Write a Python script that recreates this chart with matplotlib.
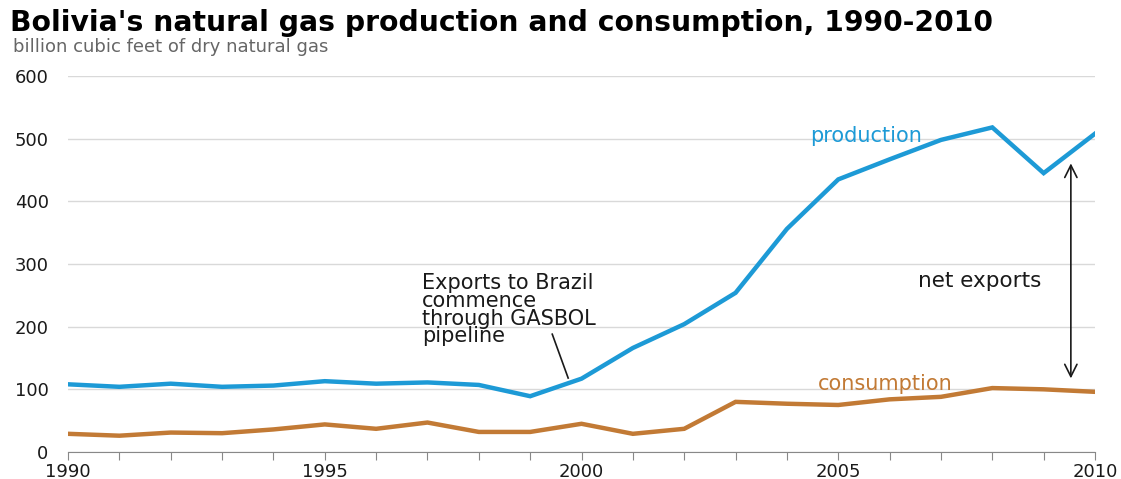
import numpy as np
import matplotlib
matplotlib.use('Agg')
import matplotlib.pyplot as plt

# данные
years = np.arange(1990, 2011)
production = [108, 104, 109, 104, 106, 113, 109, 111, 107, 89,
              117, 166, 204, 254, 356, 435, 467, 498, 518, 445, 508]
consumption = [29, 26, 31, 30, 36, 44, 37, 47, 32, 32,
               45, 29, 37, 80, 77, 75, 84, 88, 102, 100, 96]
yticks = [0, 100, 200, 300, 400, 500, 600]
xlabels = [1990, 1995, 2000, 2005, 2010]

blue = '#1d9ad6'
brown = '#c27a35'

plt.rcParams['font.family'] = ['DejaVu Sans']
fig = plt.figure(figsize=(11.21, 4.79), dpi=100)
ax = fig.add_axes([0.0607, 0.0564, 0.9161, 0.7849])

ax.plot(years, production, color=blue, lw=3.2, solid_joinstyle='miter', zorder=3)
ax.plot(years, consumption, color=brown, lw=3.2, solid_joinstyle='miter', zorder=3)

ax.set_xlim(1990, 2010)
ax.set_ylim(0, 600)
ax.set_yticks(yticks)
ax.set_yticklabels([str(v) for v in yticks], fontsize=13, color='#1a1a1a')
ax.set_xticks(years)
ax.set_xticklabels([str(y) if y in xlabels else '' for y in years],
                   fontsize=13, color='#1a1a1a')
ax.tick_params(axis='y', length=0, pad=14)
ax.tick_params(axis='x', length=6, color='#888888', pad=2)
ax.grid(axis='y', color='#d9d9d9', lw=1)
ax.set_axisbelow(True)
for s in ['left', 'right', 'top']:
    ax.spines[s].set_visible(False)
ax.spines['bottom'].set_color('#888888')

# подписи
ax.text(2004.45, 504, 'production', color=blue, fontsize=15, va='center')
ax.text(2004.6, 108, 'consumption', color=brown, fontsize=15, va='center')
ax.text(2006.55, 273, 'net exports', color='#1a1a1a', fontsize=15.5, va='center')
ax.text(1996.9, 227, 'Exports to Brazil\ncommence\nthrough GASBOL\npipeline',
        color='#1a1a1a', fontsize=15, va='center', linespacing=0.85)
ax.plot([1999.43, 1999.74], [188, 118], color='#1a1a1a', lw=1.2)
ax.annotate('', xy=(2009.53, 465), xytext=(2009.53, 113),
            arrowprops=dict(arrowstyle='<->', color='#1a1a1a', lw=1.2,
                            mutation_scale=22))

fig.text(0.009, 0.953, "Bolivia's natural gas production and consumption, 1990-2010",
         fontsize=20.3, fontweight='bold', va='center', color='black')
fig.text(0.012, 0.901, 'billion cubic feet of dry natural gas',
         fontsize=13, va='center', color='#666666')

fig.savefig('out.png', dpi=100)
